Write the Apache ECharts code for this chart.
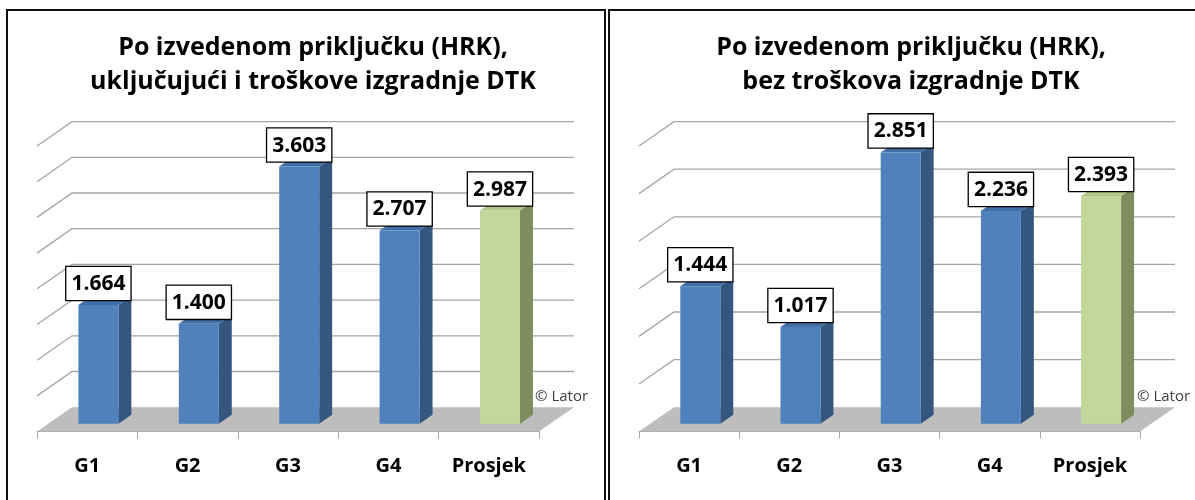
<!DOCTYPE html>
<html>
<head>
<meta charset="utf-8">
<title>Po izvedenom priključku (HRK)</title>
<script src="https://cdn.jsdelivr.net/npm/echarts@6/dist/echarts.min.js"></script>
<style>
  html, body { margin: 0; padding: 0; background: #fff; }
  #chart { width: 1195px; height: 500px; }
</style>
</head>
<body>
<div id="chart"></div>
<script>
var categories = ['G1', 'G2', 'G3', 'G4', 'Prosjek'];
var valuesWith = [1.664, 1.400, 3.603, 2.707, 2.987];      // uključujući DTK
var valuesWithout = [1.444, 1.017, 2.851, 2.236, 2.393];   // bez DTK
var gridValuesLeft = [0.5, 1, 1.5, 2, 2.5, 3, 3.5, 4];
var gridValuesRight = [0.5, 1, 1.5, 2, 2.5, 3];
var titleLeft = 'Po izvedenom priključku (HRK),\nuključujući i troškove izgradnje DTK';
var titleRight = 'Po izvedenom priključku (HRK),\nbez troškova izgradnje DTK';

var FONT = '"Open Sans", "DejaVu Sans", sans-serif';
var D = [35, -24.4];      // depth vector, front edge -> back wall
var T0 = 0.32, T1 = 0.69; // bar front / back depth
var BAR_W = 40;

var chart = echarts.init(document.getElementById('chart'));

function bandEdges(api, v) {
  var half = api.size([1, 0])[0] / 2;
  var l = api.coord([0, v]);
  var r = api.coord([categories.length - 1, v]);
  return { xl: l[0] - half, xr: r[0] + half, y: l[1] };
}

function renderWall(params, api) {
  var e = bandEdges(api, api.value(1));
  return {
    type: 'polyline',
    shape: { points: [[e.xl, e.y], [e.xl + D[0], e.y + D[1]], [e.xr + D[0], e.y + D[1]]] },
    style: { stroke: '#a5a5a5', lineWidth: 1.3, fill: null }
  };
}

function renderFloor(params, api) {
  var e = bandEdges(api, 0);
  return {
    type: 'polygon',
    shape: { points: [[e.xl, e.y], [e.xr, e.y], [e.xr + D[0], e.y + D[1]], [e.xl + D[0], e.y + D[1]]] },
    style: { fill: '#bdbdbd' }
  };
}

function renderBar(params, api) {
  var idx = api.value(0);
  var val = api.value(1);
  var c = api.coord([idx, val]);
  var b = api.coord([idx, 0]);
  var x0 = c[0] + T0 * D[0] - BAR_W / 2, x1 = x0 + BAR_W;
  var yt = c[1] + T0 * D[1], yb = b[1] + T0 * D[1];
  var dx = (T1 - T0) * D[0], dy = (T1 - T0) * D[1];
  var avg = idx === categories.length - 1;
  var front = avg ? '#c3d69b' : '#4f81bd';
  var side = avg ? '#7f8c5f' : '#35577f';
  var top = avg ? '#b2c58a' : '#426fa6';
  return {
    type: 'group',
    children: [
      { type: 'polygon', shape: { points: [[x1, yt], [x1 + dx, yt + dy], [x1 + dx, yb + dy], [x1, yb]] }, style: { fill: side } },
      { type: 'polygon', shape: { points: [[x0, yt], [x0 + dx, yt + dy], [x1 + dx, yt + dy], [x1, yt]] }, style: { fill: top } },
      { type: 'rect', shape: { x: x0, y: yt, width: BAR_W, height: yb - yt }, style: { fill: front } },
      {
        type: 'text', z2: 50,
        x: (x0 + x1) / 2, y: yt - 5,
        style: {
          text: val.toFixed(3), fontFamily: FONT, fontWeight: 'bold', fontSize: 21,
          fill: '#000', align: 'center', verticalAlign: 'bottom',
          backgroundColor: '#fff', borderColor: '#000', borderWidth: 1.3,
          padding: [5, 5, 4, 5], lineHeight: 24
        }
      }
    ]
  };
}

function xAxisFor(gi) {
  return {
    type: 'category', gridIndex: gi, data: categories,
    axisLine: { show: true, lineStyle: { color: '#a5a5a5', width: 1 } },
    axisTick: { show: true, length: 7, interval: 0, lineStyle: { color: '#a5a5a5' } },
    axisLabel: { interval: 0, margin: 25, fontFamily: FONT, fontWeight: 'bold', fontSize: 20, color: '#000' },
    splitLine: { show: false }
  };
}

function yAxisFor(gi, max) {
  return { type: 'value', gridIndex: gi, min: 0, max: max, show: false, splitLine: { show: false } };
}

function seriesFor(gi, values, gridValues) {
  return [
    { type: 'custom', xAxisIndex: gi, yAxisIndex: gi, renderItem: renderWall, silent: true,
      data: gridValues.map(function (v) { return [0, v]; }), z: 1 },
    { type: 'custom', xAxisIndex: gi, yAxisIndex: gi, renderItem: renderFloor, silent: true,
      data: [[0, 0]], z: 2 },
    { type: 'custom', xAxisIndex: gi, yAxisIndex: gi, renderItem: renderBar,
      data: values.map(function (v, i) { return [i, v]; }), z: 3 }
  ];
}

var titleStyle = { fontFamily: FONT, fontWeight: 'bold', fontSize: 25, lineHeight: 34, color: '#000' };

var option = {
  animation: false,
  title: [
    { text: titleLeft, left: 308, top: 26, textAlign: 'center', textStyle: titleStyle },
    { text: titleRight, left: 906, top: 26, textAlign: 'center', textStyle: titleStyle }
  ],
  grid: [
    { left: 37, width: 502, top: 146, height: 285.6 },
    { left: 639, width: 501, top: 146, height: 285.6 }
  ],
  xAxis: [xAxisFor(0), xAxisFor(1)],
  yAxis: [yAxisFor(0, 4), yAxisFor(1, 3)],
  series: seriesFor(0, valuesWith, gridValuesLeft).concat(seriesFor(1, valuesWithout, gridValuesRight)),
  graphic: [
    { type: 'rect', shape: { x: 7, y: 10, width: 598, height: 520 }, style: { fill: null, stroke: '#111', lineWidth: 2 }, silent: true },
    { type: 'rect', shape: { x: 609, y: 10, width: 700, height: 520 }, style: { fill: null, stroke: '#111', lineWidth: 2 }, silent: true },
    { type: 'text', left: 535, top: 389, style: { text: '© Lator', fontFamily: FONT, fontSize: 15, fill: '#404040' } },
    { type: 'text', left: 1137, top: 389, style: { text: '© Lator', fontFamily: FONT, fontSize: 15, fill: '#404040' } }
  ]
};

chart.setOption(option);
</script>
</body>
</html>
